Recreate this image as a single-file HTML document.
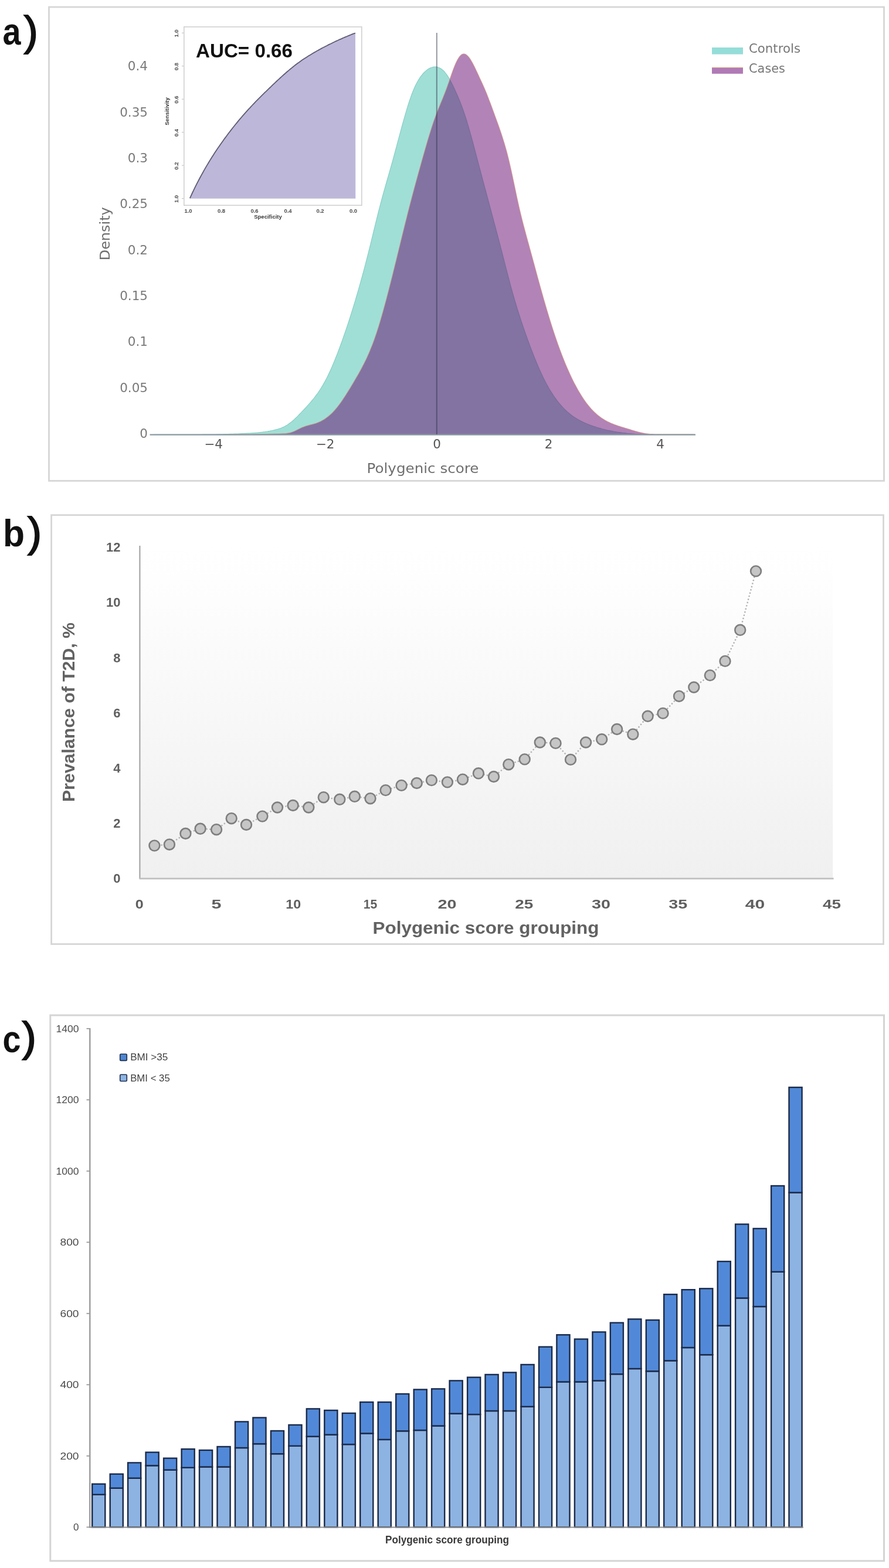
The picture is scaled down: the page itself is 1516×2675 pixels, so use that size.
<!DOCTYPE html>
<html><head><meta charset="utf-8"><title>Figure</title><style>
html,body{margin:0;padding:0;background:#fff;}
svg{display:block;}
text{font-family:"Liberation Sans",sans-serif;}
.ta{font-family:"DejaVu Sans",sans-serif;font-size:21.5px;fill:#7a7a7a;}
.tx{font-family:"DejaVu Sans",sans-serif;font-size:21.5px;fill:#555;}
.tt{font-family:"DejaVu Sans",sans-serif;font-size:23.5px;fill:#6f6f6f;}
.lg{font-family:"DejaVu Sans",sans-serif;font-size:21.5px;fill:#777;}
.ti{font-family:"Liberation Sans",sans-serif;font-size:9.5px;font-weight:bold;fill:#4d4d4d;}
.ti2{font-family:"Liberation Sans",sans-serif;font-size:9.5px;font-weight:bold;fill:#3a3a3a;}
.auc{font-family:"Liberation Sans",sans-serif;font-weight:bold;font-size:33px;fill:#111;}
.pl{font-family:"Liberation Sans",sans-serif;font-weight:bold;font-size:64px;fill:#111;}
.pp{font-weight:normal;font-size:71px;stroke:#111;stroke-width:2px;}
.tb{font-family:"Liberation Sans",sans-serif;font-weight:bold;font-size:22px;fill:#5f5f5f;}
.tbt{font-family:"Liberation Sans",sans-serif;font-weight:bold;font-size:30px;fill:#626262;}
.tc{font-family:"Liberation Sans",sans-serif;font-size:17px;fill:#4a4a4a;}
.lc{font-family:"Liberation Sans",sans-serif;font-size:16px;fill:#404040;}
.tct{font-family:"Liberation Sans",sans-serif;font-weight:bold;font-size:18px;fill:#383838;}
.bl{fill:#8db3e3;stroke:#1c2a48;stroke-width:2.4;}
.bu{fill:#5189d8;stroke:#1c2a48;stroke-width:2.4;}
</style></head>
<body><svg width="1516" height="2675" viewBox="0 0 1516 2675">
<rect width="1516" height="2675" fill="#fff"/>
<rect x="83.5" y="12" width="1424" height="808.3" fill="none" stroke="#d6d6d6" stroke-width="2.8"/>
<path d="M256,741.5 L258,741.5 L260,741.5 L262,741.5 L264,741.4 L266,741.4 L268,741.4 L270,741.4 L272,741.4 L274,741.4 L276,741.4 L278,741.4 L280,741.4 L282,741.4 L284,741.4 L286,741.4 L288,741.4 L290,741.4 L292,741.4 L294,741.4 L296,741.4 L298,741.4 L300,741.4 L302,741.4 L304,741.4 L306,741.4 L308,741.4 L310,741.4 L312,741.4 L314,741.4 L316,741.4 L318,741.4 L320,741.3 L322,741.3 L324,741.3 L326,741.3 L328,741.3 L330,741.3 L332,741.3 L334,741.3 L336,741.3 L338,741.3 L340,741.3 L342,741.3 L344,741.3 L346,741.2 L348,741.2 L350,741.2 L352,741.2 L354,741.2 L356,741.1 L358,741.1 L360,741.1 L362,741.1 L364,741 L366,741 L368,741 L370,740.9 L372,740.9 L374,740.9 L376,740.8 L378,740.8 L380,740.8 L382,740.7 L384,740.7 L386,740.6 L388,740.6 L390,740.5 L392,740.4 L394,740.4 L396,740.3 L398,740.3 L400,740.2 L402,740.1 L404,740 L406,740 L408,739.9 L410,739.8 L412,739.7 L414,739.6 L416,739.5 L418,739.4 L420,739.4 L422,739.2 L424,739.1 L426,739 L428,738.9 L430,738.8 L432,738.6 L434,738.5 L436,738.3 L438,738.2 L440,738 L442,737.8 L444,737.6 L446,737.3 L448,737.1 L450,736.8 L452,736.6 L454,736.3 L456,736 L458,735.6 L460,735.3 L462,734.9 L464,734.5 L466,734 L468,733.6 L470,733.1 L472,732.6 L474,732 L476,731.4 L478,730.7 L480,730 L482,729.1 L484,728.2 L486,727.2 L488,726.1 L490,724.9 L492,723.6 L494,722.1 L496,720.6 L498,719 L500,717.2 L502,715.4 L504,713.5 L506,711.6 L508,709.6 L510,707.5 L512,705.5 L514,703.4 L516,701.2 L518,699.1 L520,697 L522,694.8 L524,692.6 L526,690.4 L528,688.2 L530,685.9 L532,683.5 L534,681 L536,678.5 L538,675.9 L540,673.2 L542,670.5 L544,667.5 L546,664.5 L548,661.4 L550,658.1 L552,654.6 L554,651 L556,647.3 L558,643.4 L560,639.3 L562,635.1 L564,630.7 L566,626.2 L568,621.5 L570,616.7 L572,611.8 L574,606.8 L576,601.6 L578,596.3 L580,591 L582,585.5 L584,579.9 L586,574.2 L588,568.4 L590,562.6 L592,556.6 L594,550.6 L596,544.5 L598,538.2 L600,531.9 L602,525.4 L604,518.9 L606,512.3 L608,505.5 L610,498.7 L612,491.7 L614,484.7 L616,477.5 L618,470.2 L620,462.8 L622,455.3 L624,447.7 L626,440 L628,432.1 L630,424.2 L632,416.1 L634,407.9 L636,399.7 L638,391.5 L640,383.3 L642,375.1 L644,367.1 L646,359.2 L648,351.4 L650,343.8 L652,336.5 L654,329.2 L656,322.1 L658,315 L660,308 L662,301.1 L664,294.1 L666,287.1 L668,280 L670,272.8 L672,265.5 L674,258.1 L676,250.7 L678,243.2 L680,235.7 L682,228.3 L684,220.9 L686,213.5 L688,206.3 L690,199.3 L692,192.4 L694,185.7 L696,179.2 L698,173 L700,167.1 L702,161.5 L704,156.3 L706,151.4 L708,147 L710,142.9 L712,139.2 L714,135.8 L716,132.7 L718,129.9 L720,127.3 L722,125 L724,122.9 L726,121.1 L728,119.5 L730,118.1 L732,116.9 L734,115.9 L736,115.2 L738,114.6 L740,114.2 L742,114.1 L744,114.2 L746,114.6 L748,115.2 L750,116.1 L752,117.2 L754,118.7 L756,120.5 L758,122.5 L760,125 L762,127.7 L764,130.8 L766,134.1 L768,137.8 L770,141.6 L772,145.6 L774,149.8 L776,154 L778,158.4 L780,163 L782,167.7 L784,172.6 L786,177.7 L788,183 L790,188.5 L792,194.4 L794,200.4 L796,206.8 L798,213.4 L800,220.3 L802,227.4 L804,234.6 L806,242 L808,249.5 L810,257.1 L812,264.7 L814,272.3 L816,279.9 L818,287.5 L820,295 L822,302.5 L824,310.1 L826,317.6 L828,325 L830,332.5 L832,340 L834,347.4 L836,354.9 L838,362.4 L840,369.8 L842,377.3 L844,384.8 L846,392.4 L848,399.9 L850,407.6 L852,415.2 L854,422.9 L856,430.7 L858,438.5 L860,446.3 L862,454.1 L864,461.9 L866,469.6 L868,477.2 L870,484.8 L872,492.2 L874,499.4 L876,506.5 L878,513.3 L880,520 L882,526.6 L884,533 L886,539.3 L888,545.4 L890,551.4 L892,557.4 L894,563.2 L896,568.9 L898,574.5 L900,580.1 L902,585.5 L904,590.9 L906,596.2 L908,601.4 L910,606.5 L912,611.6 L914,616.5 L916,621.3 L918,626 L920,630.5 L922,635 L924,639.3 L926,643.5 L928,647.6 L930,651.5 L932,655.3 L934,658.9 L936,662.5 L938,665.8 L940,669.1 L942,672.2 L944,675.3 L946,678.2 L948,680.9 L950,683.6 L952,686.2 L954,688.6 L956,691 L958,693.2 L960,695.4 L962,697.4 L964,699.4 L966,701.3 L968,703.1 L970,704.8 L972,706.4 L974,708 L976,709.4 L978,710.9 L980,712.2 L982,713.5 L984,714.7 L986,715.9 L988,717 L990,718.1 L992,719.1 L994,720 L996,721 L998,721.9 L1000,722.7 L1002,723.5 L1004,724.3 L1006,725.1 L1008,725.8 L1010,726.5 L1012,727.2 L1014,727.9 L1016,728.5 L1018,729.2 L1020,729.8 L1022,730.4 L1024,730.9 L1026,731.5 L1028,732 L1030,732.5 L1032,733 L1034,733.5 L1036,734 L1038,734.4 L1040,734.8 L1042,735.2 L1044,735.6 L1046,736 L1048,736.4 L1050,736.7 L1052,737 L1054,737.3 L1056,737.6 L1058,737.9 L1060,738.2 L1062,738.5 L1064,738.7 L1066,738.9 L1068,739.1 L1070,739.4 L1072,739.5 L1074,739.7 L1076,739.9 L1078,740.1 L1080,740.2 L1082,740.3 L1084,740.5 L1086,740.6 L1088,740.7 L1090,740.8 L1092,740.9 L1094,741 L1096,741.1 L1098,741.1 L1100,741.2 L1102,741.2 L1104,741.3 L1106,741.3 L1108,741.4 L1110,741.4 L1112,741.4 L1114,741.4 L1116,741.5 L1118,741.5 L1120,741.5 L1122,741.5 L1124,741.5 L1126,741.5 L1128,741.5 L1130,741.5 L1132,741.5 L1134,741.5 L1136,741.5 L1138,741.5 L1140,741.5 L1142,741.5 L1144,741.5 L1146,741.5 L1148,741.5 L1150,741.5 L1152,741.5 L1154,741.5 L1156,741.5 L1158,741.5 L1160,741.5 L1162,741.5 L1164,741.5 L1166,741.5 L1168,741.5 L1170,741.5 L1172,741.5 L1174,741.5 L1176,741.5 L1178,741.5 L1180,741.5 L1182,741.5 L1184,741.5 L1186,741.5Z" fill="#a0dfd6" stroke="#86cfc6" stroke-width="1.2"/>
<path d="M256,741.5 L258,741.5 L260,741.5 L262,741.5 L264,741.5 L266,741.5 L268,741.5 L270,741.5 L272,741.5 L274,741.5 L276,741.5 L278,741.5 L280,741.5 L282,741.5 L284,741.5 L286,741.5 L288,741.5 L290,741.5 L292,741.5 L294,741.5 L296,741.5 L298,741.5 L300,741.5 L302,741.5 L304,741.5 L306,741.5 L308,741.5 L310,741.5 L312,741.5 L314,741.5 L316,741.5 L318,741.5 L320,741.5 L322,741.5 L324,741.5 L326,741.5 L328,741.5 L330,741.5 L332,741.5 L334,741.5 L336,741.5 L338,741.5 L340,741.5 L342,741.5 L344,741.5 L346,741.5 L348,741.5 L350,741.5 L352,741.5 L354,741.5 L356,741.5 L358,741.5 L360,741.5 L362,741.5 L364,741.5 L366,741.5 L368,741.5 L370,741.5 L372,741.5 L374,741.5 L376,741.5 L378,741.5 L380,741.5 L382,741.5 L384,741.5 L386,741.5 L388,741.5 L390,741.4 L392,741.4 L394,741.4 L396,741.4 L398,741.4 L400,741.3 L402,741.3 L404,741.3 L406,741.3 L408,741.3 L410,741.2 L412,741.2 L414,741.2 L416,741.2 L418,741.1 L420,741.1 L422,741.1 L424,741 L426,741 L428,741 L430,741 L432,740.9 L434,740.9 L436,740.8 L438,740.8 L440,740.8 L442,740.7 L444,740.7 L446,740.7 L448,740.6 L450,740.6 L452,740.5 L454,740.5 L456,740.5 L458,740.4 L460,740.4 L462,740.3 L464,740.3 L466,740.2 L468,740.2 L470,740.1 L472,740.1 L474,740 L476,740 L478,739.9 L480,739.8 L482,739.8 L484,739.7 L486,739.6 L488,739.4 L490,739.1 L492,738.8 L494,738.4 L496,737.9 L498,737.3 L500,736.5 L502,735.7 L504,734.7 L506,733.8 L508,732.7 L510,731.7 L512,730.8 L514,729.8 L516,728.9 L518,728.2 L520,727.4 L522,726.8 L524,726.2 L526,725.7 L528,725.1 L530,724.6 L532,724.1 L534,723.6 L536,723 L538,722.4 L540,721.7 L542,720.9 L544,720.1 L546,719.2 L548,718.2 L550,717.1 L552,715.9 L554,714.7 L556,713.3 L558,711.8 L560,710.3 L562,708.6 L564,706.8 L566,704.9 L568,702.9 L570,700.7 L572,698.4 L574,696.1 L576,693.6 L578,691 L580,688.3 L582,685.5 L584,682.6 L586,679.6 L588,676.6 L590,673.5 L592,670.3 L594,667.1 L596,663.9 L598,660.6 L600,657.2 L602,653.9 L604,650.5 L606,647.1 L608,643.6 L610,640.2 L612,636.7 L614,633.1 L616,629.4 L618,625.6 L620,621.8 L622,617.8 L624,613.7 L626,609.4 L628,605 L630,600.4 L632,595.6 L634,590.6 L636,585.4 L638,580 L640,574.3 L642,568.4 L644,562.3 L646,555.9 L648,549.3 L650,542.5 L652,535.5 L654,528.4 L656,521.1 L658,513.7 L660,506.1 L662,498.4 L664,490.6 L666,482.8 L668,474.8 L670,466.8 L672,458.7 L674,450.6 L676,442.5 L678,434.3 L680,426.1 L682,417.9 L684,409.7 L686,401.5 L688,393.4 L690,385.3 L692,377.3 L694,369.3 L696,361.3 L698,353.5 L700,345.8 L702,338.1 L704,330.6 L706,323.1 L708,315.7 L710,308.3 L712,301.1 L714,293.8 L716,286.6 L718,279.5 L720,272.3 L722,265.2 L724,258.2 L726,251.2 L728,244.3 L730,237.5 L732,230.9 L734,224.4 L736,218.1 L738,211.9 L740,206.1 L742,200.4 L744,195 L746,189.8 L748,184.8 L750,179.9 L752,175 L754,170.2 L756,165.3 L758,160.3 L760,155.1 L762,149.7 L764,144.1 L766,138.4 L768,132.5 L770,126.8 L772,121.1 L774,115.8 L776,110.8 L778,106.2 L780,102.2 L782,98.9 L784,96.1 L786,94 L788,92.6 L790,91.9 L792,91.9 L794,92.6 L796,93.9 L798,95.8 L800,98.2 L802,101.1 L804,104.4 L806,107.9 L808,111.8 L810,115.8 L812,120 L814,124.3 L816,128.6 L818,132.9 L820,137.2 L822,141.5 L824,145.9 L826,150.5 L828,155.2 L830,160.1 L832,165.2 L834,170.4 L836,175.6 L838,181 L840,186.4 L842,191.9 L844,197.4 L846,202.9 L848,208.4 L850,214 L852,219.7 L854,225.6 L856,231.6 L858,237.9 L860,244.4 L862,251.3 L864,258.5 L866,266.2 L868,274.3 L870,282.9 L872,291.8 L874,301.1 L876,310.6 L878,320.1 L880,329.6 L882,339 L884,348.1 L886,356.9 L888,365.3 L890,373.5 L892,381.3 L894,389 L896,396.5 L898,403.9 L900,411.2 L902,418.5 L904,425.8 L906,433.1 L908,440.4 L910,447.8 L912,455.2 L914,462.6 L916,470 L918,477.3 L920,484.6 L922,491.8 L924,499 L926,506.1 L928,513.1 L930,520 L932,526.8 L934,533.5 L936,540.2 L938,546.7 L940,553.1 L942,559.4 L944,565.5 L946,571.6 L948,577.5 L950,583.3 L952,588.9 L954,594.4 L956,599.8 L958,605.1 L960,610.3 L962,615.3 L964,620.2 L966,624.9 L968,629.6 L970,634.1 L972,638.5 L974,642.8 L976,646.9 L978,650.9 L980,654.9 L982,658.6 L984,662.3 L986,665.9 L988,669.3 L990,672.6 L992,675.8 L994,678.9 L996,681.9 L998,684.7 L1000,687.5 L1002,690.1 L1004,692.6 L1006,695 L1008,697.3 L1010,699.4 L1012,701.5 L1014,703.5 L1016,705.3 L1018,707.1 L1020,708.8 L1022,710.3 L1024,711.8 L1026,713.2 L1028,714.5 L1030,715.8 L1032,717 L1034,718.1 L1036,719.2 L1038,720.1 L1040,721.1 L1042,722 L1044,722.8 L1046,723.6 L1048,724.4 L1050,725.1 L1052,725.8 L1054,726.5 L1056,727.1 L1058,727.8 L1060,728.4 L1062,729 L1064,729.6 L1066,730.2 L1068,730.8 L1070,731.4 L1072,732 L1074,732.6 L1076,733.3 L1078,733.9 L1080,734.5 L1082,735.1 L1084,735.7 L1086,736.2 L1088,736.8 L1090,737.3 L1092,737.8 L1094,738.2 L1096,738.7 L1098,739 L1100,739.4 L1102,739.7 L1104,739.9 L1106,740.2 L1108,740.4 L1110,740.5 L1112,740.6 L1114,740.8 L1116,740.8 L1118,740.9 L1120,740.9 L1122,740.9 L1124,740.9 L1126,740.9 L1128,740.9 L1130,740.9 L1132,740.9 L1134,740.9 L1136,740.9 L1138,740.9 L1140,740.9 L1142,740.9 L1144,740.9 L1146,740.9 L1148,740.9 L1150,740.9 L1152,740.9 L1154,740.9 L1156,740.9 L1158,740.9 L1160,740.9 L1162,740.9 L1164,740.9 L1166,740.9 L1168,740.9 L1170,740.9 L1172,740.9 L1174,740.9 L1176,740.9 L1178,740.9 L1180,740.9 L1182,740.9 L1184,741.2 L1186,741.5Z" fill="rgba(101,7,109,0.5)" stroke="rgba(215,140,120,0.6)" stroke-width="1.2"/>
<line x1="255.5" y1="741.6" x2="1186" y2="741.6" stroke="#8b9aa2" stroke-width="2.2"/>
<line x1="744.8" y1="56" x2="744.8" y2="741" stroke="rgba(45,45,70,0.5)" stroke-width="2"/>
<text x="252" y="120.4" text-anchor="end" class="ta">0.4</text>
<text x="252" y="198.7" text-anchor="end" class="ta">0.35</text>
<text x="252" y="277" text-anchor="end" class="ta">0.3</text>
<text x="252" y="355.3" text-anchor="end" class="ta">0.25</text>
<text x="252" y="433.6" text-anchor="end" class="ta">0.2</text>
<text x="252" y="511.9" text-anchor="end" class="ta">0.15</text>
<text x="252" y="590.2" text-anchor="end" class="ta">0.1</text>
<text x="252" y="668.5" text-anchor="end" class="ta">0.05</text>
<text x="252" y="746.8" text-anchor="end" class="ta">0</text>
<text x="364" y="764.5" text-anchor="middle" class="tx">−4</text>
<text x="554.5" y="764.5" text-anchor="middle" class="tx">−2</text>
<text x="745" y="764.5" text-anchor="middle" class="tx">0</text>
<text x="935.5" y="764.5" text-anchor="middle" class="tx">2</text>
<text x="1126" y="764.5" text-anchor="middle" class="tx">4</text>
<text x="625.5" y="807.4" class="tt" textLength="191" lengthAdjust="spacingAndGlyphs">Polygenic score</text>
<text transform="translate(187.2,444.3) rotate(-90)" class="tt" textLength="91" lengthAdjust="spacingAndGlyphs">Density</text>
<rect x="1214" y="81" width="53" height="11.6" fill="#95ddd8"/>
<rect x="1214" y="115" width="53" height="10.8" fill="#b07ab6"/>
<line x1="1214" y1="115.3" x2="1267" y2="115.3" stroke="#e3a978" stroke-width="1"/>
<text x="1277" y="89.6" class="lg" textLength="88" lengthAdjust="spacingAndGlyphs">Controls</text>
<text x="1277" y="123.5" class="lg" textLength="62" lengthAdjust="spacingAndGlyphs">Cases</text>
<rect x="313.8" y="45.8" width="303" height="304.5" fill="#fff" stroke="#d0d0d0" stroke-width="1.6"/>
<path d="M323.8,338.1 L325.8,333.8 L327.8,329.5 L329.8,325.3 L331.8,321.2 L333.8,317.2 L335.8,313.2 L337.8,309.3 L339.8,305.5 L341.8,301.8 L343.8,298.1 L345.8,294.5 L347.8,290.9 L349.8,287.4 L351.8,283.9 L353.8,280.6 L355.8,277.2 L357.8,273.9 L359.8,270.7 L361.8,267.5 L363.8,264.4 L365.8,261.3 L367.8,258.3 L369.8,255.3 L371.8,252.3 L373.8,249.4 L375.8,246.5 L377.8,243.7 L379.8,240.9 L381.8,238.1 L383.8,235.4 L385.8,232.7 L387.8,230 L389.8,227.3 L391.8,224.7 L393.8,222.1 L395.8,219.5 L397.8,217 L399.8,214.5 L401.8,212 L403.8,209.6 L405.8,207.1 L407.8,204.7 L409.8,202.4 L411.8,200 L413.8,197.7 L415.8,195.4 L417.8,193.1 L419.8,190.9 L421.8,188.6 L423.8,186.4 L425.8,184.3 L427.8,182.1 L429.8,180 L431.8,177.9 L433.8,175.8 L435.8,173.7 L437.8,171.7 L439.8,169.6 L441.8,167.6 L443.8,165.6 L445.8,163.6 L447.8,161.6 L449.8,159.7 L451.8,157.7 L453.8,155.8 L455.8,153.8 L457.8,151.9 L459.8,150 L461.8,148.1 L463.8,146.1 L465.8,144.2 L467.8,142.3 L469.8,140.4 L471.8,138.5 L473.8,136.7 L475.8,134.8 L477.8,133 L479.8,131.2 L481.8,129.3 L483.8,127.5 L485.8,125.8 L487.8,124 L489.8,122.3 L491.8,120.6 L493.8,118.9 L495.8,117.2 L497.8,115.6 L499.8,114 L501.8,112.4 L503.8,110.8 L505.8,109.3 L507.8,107.8 L509.8,106.4 L511.8,104.9 L513.8,103.5 L515.8,102.1 L517.8,100.8 L519.8,99.5 L521.8,98.2 L523.8,96.9 L525.8,95.6 L527.8,94.4 L529.8,93.2 L531.8,92 L533.8,90.8 L535.8,89.6 L537.8,88.5 L539.8,87.3 L541.8,86.2 L543.8,85.1 L545.8,84 L547.8,82.9 L549.8,81.8 L551.8,80.8 L553.8,79.7 L555.8,78.7 L557.8,77.7 L559.8,76.6 L561.8,75.6 L563.8,74.7 L565.8,73.7 L567.8,72.7 L569.8,71.8 L571.8,70.8 L573.8,69.9 L575.8,69 L577.8,68 L579.8,67.1 L581.8,66.3 L583.8,65.4 L585.8,64.5 L587.8,63.6 L589.8,62.8 L591.8,62 L593.8,61.1 L595.8,60.3 L597.8,59.5 L599.8,58.7 L601.8,57.9 L603.8,57.1 L605.8,56.4 L606,56.3L606.3,338.7L323.8,338.7Z" fill="#bdb8d9"/>
<path d="M323.8,338.1 L325.8,333.8 L327.8,329.5 L329.8,325.3 L331.8,321.2 L333.8,317.2 L335.8,313.2 L337.8,309.3 L339.8,305.5 L341.8,301.8 L343.8,298.1 L345.8,294.5 L347.8,290.9 L349.8,287.4 L351.8,283.9 L353.8,280.6 L355.8,277.2 L357.8,273.9 L359.8,270.7 L361.8,267.5 L363.8,264.4 L365.8,261.3 L367.8,258.3 L369.8,255.3 L371.8,252.3 L373.8,249.4 L375.8,246.5 L377.8,243.7 L379.8,240.9 L381.8,238.1 L383.8,235.4 L385.8,232.7 L387.8,230 L389.8,227.3 L391.8,224.7 L393.8,222.1 L395.8,219.5 L397.8,217 L399.8,214.5 L401.8,212 L403.8,209.6 L405.8,207.1 L407.8,204.7 L409.8,202.4 L411.8,200 L413.8,197.7 L415.8,195.4 L417.8,193.1 L419.8,190.9 L421.8,188.6 L423.8,186.4 L425.8,184.3 L427.8,182.1 L429.8,180 L431.8,177.9 L433.8,175.8 L435.8,173.7 L437.8,171.7 L439.8,169.6 L441.8,167.6 L443.8,165.6 L445.8,163.6 L447.8,161.6 L449.8,159.7 L451.8,157.7 L453.8,155.8 L455.8,153.8 L457.8,151.9 L459.8,150 L461.8,148.1 L463.8,146.1 L465.8,144.2 L467.8,142.3 L469.8,140.4 L471.8,138.5 L473.8,136.7 L475.8,134.8 L477.8,133 L479.8,131.2 L481.8,129.3 L483.8,127.5 L485.8,125.8 L487.8,124 L489.8,122.3 L491.8,120.6 L493.8,118.9 L495.8,117.2 L497.8,115.6 L499.8,114 L501.8,112.4 L503.8,110.8 L505.8,109.3 L507.8,107.8 L509.8,106.4 L511.8,104.9 L513.8,103.5 L515.8,102.1 L517.8,100.8 L519.8,99.5 L521.8,98.2 L523.8,96.9 L525.8,95.6 L527.8,94.4 L529.8,93.2 L531.8,92 L533.8,90.8 L535.8,89.6 L537.8,88.5 L539.8,87.3 L541.8,86.2 L543.8,85.1 L545.8,84 L547.8,82.9 L549.8,81.8 L551.8,80.8 L553.8,79.7 L555.8,78.7 L557.8,77.7 L559.8,76.6 L561.8,75.6 L563.8,74.7 L565.8,73.7 L567.8,72.7 L569.8,71.8 L571.8,70.8 L573.8,69.9 L575.8,69 L577.8,68 L579.8,67.1 L581.8,66.3 L583.8,65.4 L585.8,64.5 L587.8,63.6 L589.8,62.8 L591.8,62 L593.8,61.1 L595.8,60.3 L597.8,59.5 L599.8,58.7 L601.8,57.9 L603.8,57.1 L605.8,56.4 L606,56.3" fill="none" stroke="#5f5a72" stroke-width="1.8"/>
<line x1="310" y1="56.2" x2="313" y2="56.2" stroke="#bbb" stroke-width="1"/>
<text transform="translate(303.5,57) rotate(-90)" text-anchor="middle" class="ti">1.0</text>
<line x1="310" y1="112.7" x2="313" y2="112.7" stroke="#bbb" stroke-width="1"/>
<text transform="translate(303.5,113.5) rotate(-90)" text-anchor="middle" class="ti">0.8</text>
<line x1="310" y1="169.2" x2="313" y2="169.2" stroke="#bbb" stroke-width="1"/>
<text transform="translate(303.5,170) rotate(-90)" text-anchor="middle" class="ti">0.6</text>
<line x1="310" y1="225.7" x2="313" y2="225.7" stroke="#bbb" stroke-width="1"/>
<text transform="translate(303.5,226.5) rotate(-90)" text-anchor="middle" class="ti">0.4</text>
<line x1="310" y1="282.2" x2="313" y2="282.2" stroke="#bbb" stroke-width="1"/>
<text transform="translate(303.5,283) rotate(-90)" text-anchor="middle" class="ti">0.2</text>
<line x1="310" y1="338.7" x2="313" y2="338.7" stroke="#bbb" stroke-width="1"/>
<text transform="translate(303.5,339.5) rotate(-90)" text-anchor="middle" class="ti">1.0</text>
<text x="321" y="362.5" text-anchor="middle" class="ti">1.0</text>
<text x="377.5" y="362.5" text-anchor="middle" class="ti">0.8</text>
<text x="434" y="362.5" text-anchor="middle" class="ti">0.6</text>
<text x="491" y="362.5" text-anchor="middle" class="ti">0.4</text>
<text x="546" y="362.5" text-anchor="middle" class="ti">0.2</text>
<text x="602.5" y="362.5" text-anchor="middle" class="ti">0.0</text>
<text x="457" y="373" text-anchor="middle" class="ti2">Specificity</text>
<text transform="translate(288,190) rotate(-90)" text-anchor="middle" class="ti2">Sensitivity</text>
<text x="334" y="98" class="auc" textLength="165" lengthAdjust="spacingAndGlyphs">AUC= 0.66</text>
<text x="4.5" y="76" class="pl"><tspan textLength="31" lengthAdjust="spacingAndGlyphs">a</tspan><tspan x="41" y="77.3" class="pp">)</tspan></text>
<defs><linearGradient id="gb" x1="0" y1="0" x2="0" y2="1"><stop offset="0" stop-color="#ffffff"/><stop offset="0.1" stop-color="#fefefe"/><stop offset="1" stop-color="#f0f0f0"/></linearGradient></defs>
<rect x="87.6" y="878.7" width="1418.9" height="731.9" fill="none" stroke="#d6d6d6" stroke-width="2.8"/>
<rect x="238.5" y="931" width="1181.7" height="567.4" fill="url(#gb)"/>
<line x1="238.4" y1="931" x2="238.4" y2="1499" stroke="#a6a6a6" stroke-width="2.2"/>
<line x1="237.5" y1="1498.9" x2="1421.6" y2="1498.9" stroke="#bfbfbf" stroke-width="2.6"/>
<text x="205.4" y="1506.4" text-anchor="end" class="tb">0</text>
<text x="205.4" y="1412.2" text-anchor="end" class="tb">2</text>
<text x="205.4" y="1318" text-anchor="end" class="tb">4</text>
<text x="205.4" y="1223.8" text-anchor="end" class="tb">6</text>
<text x="205.4" y="1129.6" text-anchor="end" class="tb">8</text>
<text x="205.4" y="1035.4" text-anchor="end" class="tb">10</text>
<text x="205.4" y="941.2" text-anchor="end" class="tb">12</text>
<text x="237.8" y="1550" text-anchor="middle" class="tb" textLength="14" lengthAdjust="spacingAndGlyphs">0</text>
<text x="369" y="1550" text-anchor="middle" class="tb" textLength="17" lengthAdjust="spacingAndGlyphs">5</text>
<text x="500.2" y="1550" text-anchor="middle" class="tb" textLength="26" lengthAdjust="spacingAndGlyphs">10</text>
<text x="631.4" y="1550" text-anchor="middle" class="tb" textLength="23.5" lengthAdjust="spacingAndGlyphs">15</text>
<text x="762.6" y="1550" text-anchor="middle" class="tb" textLength="32" lengthAdjust="spacingAndGlyphs">20</text>
<text x="893.8" y="1550" text-anchor="middle" class="tb" textLength="31" lengthAdjust="spacingAndGlyphs">25</text>
<text x="1025" y="1550" text-anchor="middle" class="tb" textLength="32" lengthAdjust="spacingAndGlyphs">30</text>
<text x="1156.2" y="1550" text-anchor="middle" class="tb" textLength="32" lengthAdjust="spacingAndGlyphs">35</text>
<text x="1287.4" y="1550" text-anchor="middle" class="tb" textLength="33.5" lengthAdjust="spacingAndGlyphs">40</text>
<text x="1418.6" y="1550" text-anchor="middle" class="tb" textLength="31" lengthAdjust="spacingAndGlyphs">45</text>
<text x="635.5" y="1593.3" class="tbt" textLength="386" lengthAdjust="spacingAndGlyphs">Polygenic score grouping</text>
<text transform="translate(127.3,1368) rotate(-90)" class="tbt" textLength="306" lengthAdjust="spacingAndGlyphs">Prevalance of T2D, %</text>
<polyline points="263.4,1442.6 288.9,1440.7 316.4,1422 341.6,1413.8 369.1,1415.2 394.7,1396.2 420,1407 447.4,1392.6 473,1377.5 499.6,1374 526.3,1377.5 551.8,1360.2 579.3,1363.8 604.8,1358.8 631.5,1362.2 657.6,1348.1 684.6,1339.9 710.7,1336 735.9,1331.1 762.9,1334.4 789,1329.7 815.9,1319.3 842,1325 867.3,1304.2 894.7,1295.4 920.8,1266.5 947.5,1267.9 973,1295.9 999,1266.5 1026.2,1261.3 1052.1,1244 1079.3,1252.7 1104.6,1221.8 1130.5,1216.9 1158,1187.7 1183.3,1172.5 1210.8,1152.1 1236.5,1127.9 1262.2,1074.8 1289,974.4" fill="none" stroke="#b2b2b2" stroke-width="2.4" stroke-dasharray="2.4 3.2" stroke-linecap="butt"/>
<circle cx="263.4" cy="1442.6" r="8.9" fill="#c6c6c6" stroke="#7e7e7e" stroke-width="2.6"/>
<circle cx="288.9" cy="1440.7" r="8.9" fill="#c6c6c6" stroke="#7e7e7e" stroke-width="2.6"/>
<circle cx="316.4" cy="1422" r="8.9" fill="#c6c6c6" stroke="#7e7e7e" stroke-width="2.6"/>
<circle cx="341.6" cy="1413.8" r="8.9" fill="#c6c6c6" stroke="#7e7e7e" stroke-width="2.6"/>
<circle cx="369.1" cy="1415.2" r="8.9" fill="#c6c6c6" stroke="#7e7e7e" stroke-width="2.6"/>
<circle cx="394.7" cy="1396.2" r="8.9" fill="#c6c6c6" stroke="#7e7e7e" stroke-width="2.6"/>
<circle cx="420" cy="1407" r="8.9" fill="#c6c6c6" stroke="#7e7e7e" stroke-width="2.6"/>
<circle cx="447.4" cy="1392.6" r="8.9" fill="#c6c6c6" stroke="#7e7e7e" stroke-width="2.6"/>
<circle cx="473" cy="1377.5" r="8.9" fill="#c6c6c6" stroke="#7e7e7e" stroke-width="2.6"/>
<circle cx="499.6" cy="1374" r="8.9" fill="#c6c6c6" stroke="#7e7e7e" stroke-width="2.6"/>
<circle cx="526.3" cy="1377.5" r="8.9" fill="#c6c6c6" stroke="#7e7e7e" stroke-width="2.6"/>
<circle cx="551.8" cy="1360.2" r="8.9" fill="#c6c6c6" stroke="#7e7e7e" stroke-width="2.6"/>
<circle cx="579.3" cy="1363.8" r="8.9" fill="#c6c6c6" stroke="#7e7e7e" stroke-width="2.6"/>
<circle cx="604.8" cy="1358.8" r="8.9" fill="#c6c6c6" stroke="#7e7e7e" stroke-width="2.6"/>
<circle cx="631.5" cy="1362.2" r="8.9" fill="#c6c6c6" stroke="#7e7e7e" stroke-width="2.6"/>
<circle cx="657.6" cy="1348.1" r="8.9" fill="#c6c6c6" stroke="#7e7e7e" stroke-width="2.6"/>
<circle cx="684.6" cy="1339.9" r="8.9" fill="#c6c6c6" stroke="#7e7e7e" stroke-width="2.6"/>
<circle cx="710.7" cy="1336" r="8.9" fill="#c6c6c6" stroke="#7e7e7e" stroke-width="2.6"/>
<circle cx="735.9" cy="1331.1" r="8.9" fill="#c6c6c6" stroke="#7e7e7e" stroke-width="2.6"/>
<circle cx="762.9" cy="1334.4" r="8.9" fill="#c6c6c6" stroke="#7e7e7e" stroke-width="2.6"/>
<circle cx="789" cy="1329.7" r="8.9" fill="#c6c6c6" stroke="#7e7e7e" stroke-width="2.6"/>
<circle cx="815.9" cy="1319.3" r="8.9" fill="#c6c6c6" stroke="#7e7e7e" stroke-width="2.6"/>
<circle cx="842" cy="1325" r="8.9" fill="#c6c6c6" stroke="#7e7e7e" stroke-width="2.6"/>
<circle cx="867.3" cy="1304.2" r="8.9" fill="#c6c6c6" stroke="#7e7e7e" stroke-width="2.6"/>
<circle cx="894.7" cy="1295.4" r="8.9" fill="#c6c6c6" stroke="#7e7e7e" stroke-width="2.6"/>
<circle cx="920.8" cy="1266.5" r="8.9" fill="#c6c6c6" stroke="#7e7e7e" stroke-width="2.6"/>
<circle cx="947.5" cy="1267.9" r="8.9" fill="#c6c6c6" stroke="#7e7e7e" stroke-width="2.6"/>
<circle cx="973" cy="1295.9" r="8.9" fill="#c6c6c6" stroke="#7e7e7e" stroke-width="2.6"/>
<circle cx="999" cy="1266.5" r="8.9" fill="#c6c6c6" stroke="#7e7e7e" stroke-width="2.6"/>
<circle cx="1026.2" cy="1261.3" r="8.9" fill="#c6c6c6" stroke="#7e7e7e" stroke-width="2.6"/>
<circle cx="1052.1" cy="1244" r="8.9" fill="#c6c6c6" stroke="#7e7e7e" stroke-width="2.6"/>
<circle cx="1079.3" cy="1252.7" r="8.9" fill="#c6c6c6" stroke="#7e7e7e" stroke-width="2.6"/>
<circle cx="1104.6" cy="1221.8" r="8.9" fill="#c6c6c6" stroke="#7e7e7e" stroke-width="2.6"/>
<circle cx="1130.5" cy="1216.9" r="8.9" fill="#c6c6c6" stroke="#7e7e7e" stroke-width="2.6"/>
<circle cx="1158" cy="1187.7" r="8.9" fill="#c6c6c6" stroke="#7e7e7e" stroke-width="2.6"/>
<circle cx="1183.3" cy="1172.5" r="8.9" fill="#c6c6c6" stroke="#7e7e7e" stroke-width="2.6"/>
<circle cx="1210.8" cy="1152.1" r="8.9" fill="#c6c6c6" stroke="#7e7e7e" stroke-width="2.6"/>
<circle cx="1236.5" cy="1127.9" r="8.9" fill="#c6c6c6" stroke="#7e7e7e" stroke-width="2.6"/>
<circle cx="1262.2" cy="1074.8" r="8.9" fill="#c6c6c6" stroke="#7e7e7e" stroke-width="2.6"/>
<circle cx="1289" cy="974.4" r="8.9" fill="#c6c6c6" stroke="#7e7e7e" stroke-width="2.6"/>
<text x="5" y="931.5" class="pl"><tspan textLength="37" lengthAdjust="spacingAndGlyphs">b</tspan><tspan x="47.2" y="932.2" class="pp">)</tspan></text>
<rect x="85.8" y="1732" width="1421.7" height="930.9" fill="none" stroke="#d4d4d4" stroke-width="3"/>
<line x1="153.3" y1="1754" x2="153.3" y2="2606" stroke="#9a9a9a" stroke-width="2.4"/>
<line x1="147.5" y1="2605.3" x2="153.3" y2="2605.3" stroke="#9a9a9a" stroke-width="1.8"/>
<text x="134.5" y="2611.3" text-anchor="end" class="tc">0</text>
<line x1="147.5" y1="2483.8" x2="153.3" y2="2483.8" stroke="#9a9a9a" stroke-width="1.8"/>
<text x="134.5" y="2489.8" text-anchor="end" class="tc" textLength="32" lengthAdjust="spacingAndGlyphs">200</text>
<line x1="147.5" y1="2362.3" x2="153.3" y2="2362.3" stroke="#9a9a9a" stroke-width="1.8"/>
<text x="134.5" y="2368.3" text-anchor="end" class="tc" textLength="32" lengthAdjust="spacingAndGlyphs">400</text>
<line x1="147.5" y1="2240.8" x2="153.3" y2="2240.8" stroke="#9a9a9a" stroke-width="1.8"/>
<text x="134.5" y="2246.8" text-anchor="end" class="tc" textLength="32" lengthAdjust="spacingAndGlyphs">600</text>
<line x1="147.5" y1="2119.3" x2="153.3" y2="2119.3" stroke="#9a9a9a" stroke-width="1.8"/>
<text x="134.5" y="2125.3" text-anchor="end" class="tc" textLength="32" lengthAdjust="spacingAndGlyphs">800</text>
<line x1="147.5" y1="1997.8" x2="153.3" y2="1997.8" stroke="#9a9a9a" stroke-width="1.8"/>
<text x="134.5" y="2003.8" text-anchor="end" class="tc" textLength="39" lengthAdjust="spacingAndGlyphs">1000</text>
<line x1="147.5" y1="1876.3" x2="153.3" y2="1876.3" stroke="#9a9a9a" stroke-width="1.8"/>
<text x="134.5" y="1882.3" text-anchor="end" class="tc" textLength="39" lengthAdjust="spacingAndGlyphs">1200</text>
<line x1="147.5" y1="1754.8" x2="153.3" y2="1754.8" stroke="#9a9a9a" stroke-width="1.8"/>
<text x="134.5" y="1760.8" text-anchor="end" class="tc" textLength="39" lengthAdjust="spacingAndGlyphs">1400</text>
<rect x="157.2" y="2549.7" width="22.1" height="55.6" class="bl"/>
<rect x="157.2" y="2531.7" width="22.1" height="18" class="bu"/>
<rect x="187.7" y="2538.7" width="22.1" height="66.6" class="bl"/>
<rect x="187.7" y="2514.7" width="22.1" height="24" class="bu"/>
<rect x="218.1" y="2521.7" width="22.1" height="83.6" class="bl"/>
<rect x="218.1" y="2495.4" width="22.1" height="26.3" class="bu"/>
<rect x="248.6" y="2500.3" width="22.1" height="105" class="bl"/>
<rect x="248.6" y="2477.6" width="22.1" height="22.7" class="bu"/>
<rect x="279.1" y="2507.7" width="22.1" height="97.6" class="bl"/>
<rect x="279.1" y="2487.7" width="22.1" height="20" class="bu"/>
<rect x="309.6" y="2503.8" width="22.1" height="101.5" class="bl"/>
<rect x="309.6" y="2472.1" width="22.1" height="31.7" class="bu"/>
<rect x="340" y="2502.5" width="22.1" height="102.8" class="bl"/>
<rect x="340" y="2474" width="22.1" height="28.5" class="bu"/>
<rect x="370.5" y="2502.5" width="22.1" height="102.8" class="bl"/>
<rect x="370.5" y="2468" width="22.1" height="34.5" class="bu"/>
<rect x="401" y="2470" width="22.1" height="135.3" class="bl"/>
<rect x="401" y="2425.4" width="22.1" height="44.6" class="bu"/>
<rect x="431.4" y="2463.2" width="22.1" height="142.1" class="bl"/>
<rect x="431.4" y="2418.5" width="22.1" height="44.7" class="bu"/>
<rect x="461.9" y="2480.2" width="22.1" height="125.1" class="bl"/>
<rect x="461.9" y="2441" width="22.1" height="39.2" class="bu"/>
<rect x="492.4" y="2466.8" width="22.1" height="138.5" class="bl"/>
<rect x="492.4" y="2430.9" width="22.1" height="35.9" class="bu"/>
<rect x="522.8" y="2450.6" width="22.1" height="154.7" class="bl"/>
<rect x="522.8" y="2403.4" width="22.1" height="47.2" class="bu"/>
<rect x="553.3" y="2447.6" width="22.1" height="157.7" class="bl"/>
<rect x="553.3" y="2406" width="22.1" height="41.6" class="bu"/>
<rect x="583.8" y="2464.1" width="22.1" height="141.2" class="bl"/>
<rect x="583.8" y="2410.9" width="22.1" height="53.2" class="bu"/>
<rect x="614.2" y="2445.4" width="22.1" height="159.9" class="bl"/>
<rect x="614.2" y="2392" width="22.1" height="53.4" class="bu"/>
<rect x="644.7" y="2455.9" width="22.1" height="149.4" class="bl"/>
<rect x="644.7" y="2392" width="22.1" height="63.9" class="bu"/>
<rect x="675.2" y="2441.3" width="22.1" height="164" class="bl"/>
<rect x="675.2" y="2378" width="22.1" height="63.3" class="bu"/>
<rect x="705.7" y="2440" width="22.1" height="165.3" class="bl"/>
<rect x="705.7" y="2370.5" width="22.1" height="69.5" class="bu"/>
<rect x="736.1" y="2432.5" width="22.1" height="172.8" class="bl"/>
<rect x="736.1" y="2369.4" width="22.1" height="63.1" class="bu"/>
<rect x="766.6" y="2411.6" width="22.1" height="193.7" class="bl"/>
<rect x="766.6" y="2355.4" width="22.1" height="56.2" class="bu"/>
<rect x="797.1" y="2413" width="22.1" height="192.3" class="bl"/>
<rect x="797.1" y="2349.7" width="22.1" height="63.3" class="bu"/>
<rect x="827.5" y="2407" width="22.1" height="198.3" class="bl"/>
<rect x="827.5" y="2345" width="22.1" height="62" class="bu"/>
<rect x="858" y="2407" width="22.1" height="198.3" class="bl"/>
<rect x="858" y="2341.4" width="22.1" height="65.6" class="bu"/>
<rect x="888.5" y="2399.7" width="22.1" height="205.6" class="bl"/>
<rect x="888.5" y="2328" width="22.1" height="71.7" class="bu"/>
<rect x="919" y="2366.8" width="22.1" height="238.5" class="bl"/>
<rect x="919" y="2297.7" width="22.1" height="69.1" class="bu"/>
<rect x="949.4" y="2357.4" width="22.1" height="247.9" class="bl"/>
<rect x="949.4" y="2277.2" width="22.1" height="80.2" class="bu"/>
<rect x="979.9" y="2357.4" width="22.1" height="247.9" class="bl"/>
<rect x="979.9" y="2284.5" width="22.1" height="72.9" class="bu"/>
<rect x="1010.4" y="2355.4" width="22.1" height="249.9" class="bl"/>
<rect x="1010.4" y="2272.4" width="22.1" height="83" class="bu"/>
<rect x="1040.8" y="2344.2" width="22.1" height="261.1" class="bl"/>
<rect x="1040.8" y="2256.6" width="22.1" height="87.6" class="bu"/>
<rect x="1071.3" y="2335" width="22.1" height="270.3" class="bl"/>
<rect x="1071.3" y="2250.4" width="22.1" height="84.6" class="bu"/>
<rect x="1101.8" y="2339.3" width="22.1" height="266" class="bl"/>
<rect x="1101.8" y="2252" width="22.1" height="87.3" class="bu"/>
<rect x="1132.2" y="2321.3" width="22.1" height="284" class="bl"/>
<rect x="1132.2" y="2208.2" width="22.1" height="113.1" class="bu"/>
<rect x="1162.7" y="2299" width="22.1" height="306.3" class="bl"/>
<rect x="1162.7" y="2200.2" width="22.1" height="98.8" class="bu"/>
<rect x="1193.2" y="2311.2" width="22.1" height="294.1" class="bl"/>
<rect x="1193.2" y="2198.3" width="22.1" height="112.9" class="bu"/>
<rect x="1223.7" y="2261.6" width="22.1" height="343.7" class="bl"/>
<rect x="1223.7" y="2152" width="22.1" height="109.6" class="bu"/>
<rect x="1254.1" y="2214.5" width="22.1" height="390.8" class="bl"/>
<rect x="1254.1" y="2088.5" width="22.1" height="126" class="bu"/>
<rect x="1284.6" y="2229" width="22.1" height="376.3" class="bl"/>
<rect x="1284.6" y="2095.9" width="22.1" height="133.1" class="bu"/>
<rect x="1315.1" y="2169.7" width="22.1" height="435.6" class="bl"/>
<rect x="1315.1" y="2023" width="22.1" height="146.7" class="bu"/>
<rect x="1345.5" y="2034.5" width="22.1" height="570.8" class="bl"/>
<rect x="1345.5" y="1855" width="22.1" height="179.5" class="bu"/>
<line x1="152" y1="2605.6" x2="1370" y2="2605.6" stroke="#8e8e8e" stroke-width="2"/>
<rect x="204.7" y="1798.2" width="11.6" height="11.2" rx="1.5" fill="#4f86d0" stroke="#1f2f4f" stroke-width="1.6"/>
<rect x="204.7" y="1833.3" width="11.6" height="11.2" rx="1.5" fill="#8db4e2" stroke="#1f2f4f" stroke-width="1.6"/>
<text x="222.2" y="1809.3" class="lc" textLength="64" lengthAdjust="spacingAndGlyphs">BMI &gt;35</text>
<text x="222.2" y="1844.7" class="lc" textLength="67.6" lengthAdjust="spacingAndGlyphs">BMI &lt; 35</text>
<text x="657" y="2633.3" class="tct" textLength="211" lengthAdjust="spacingAndGlyphs">Polygenic score grouping</text>
<text x="4.5" y="1794.8" class="pl"><tspan textLength="31" lengthAdjust="spacingAndGlyphs">c</tspan><tspan x="38" y="1793.3" class="pp">)</tspan></text>
</svg></body></html>
